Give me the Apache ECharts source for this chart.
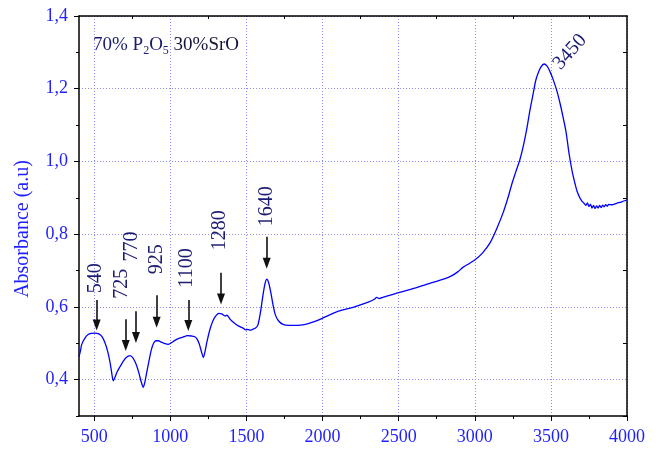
<!DOCTYPE html>
<html>
<head>
<meta charset="utf-8">
<script src="https://cdn.jsdelivr.net/npm/echarts@6/dist/echarts.min.js"></script>
<style>
  html, body { margin: 0; padding: 0; background: #fff; }
  #chart { width: 661px; height: 451px; }
</style>
</head>
<body>
<div id="chart"></div>
<script>
// FTIR absorbance spectrum, 70% P2O5 – 30% SrO glass
const wavenumber = [
  400, 410, 418, 440, 460, 480, 505, 530, 550, 570, 590, 605, 618, 625, 635, 650, 670, 690, 710, 735,
  750, 765, 780, 795, 810, 822, 832, 845, 860, 875, 890, 905, 920, 940, 960, 985, 1005, 1030, 1060, 1090,
  1110, 1140, 1160, 1175, 1190, 1205, 1217, 1228, 1240, 1260, 1280, 1300, 1320, 1340, 1360, 1372, 1380, 1395, 1420, 1450,
  1480, 1495, 1510, 1525, 1540, 1560, 1575, 1590, 1605, 1620, 1633, 1645, 1660, 1675, 1690, 1710, 1740, 1780, 1830, 1880,
  1950, 2000, 2050, 2100, 2200, 2300, 2340, 2356, 2372, 2400, 2500, 2600, 2700, 2800, 2850, 2890, 2920, 2950, 3000, 3050,
  3100, 3144, 3187, 3220, 3245, 3270, 3297, 3320, 3341, 3362, 3384, 3400, 3417, 3435, 3455, 3475, 3494, 3515, 3538, 3560,
  3581, 3600, 3620, 3640, 3658, 3672, 3690, 3705, 3720, 3730, 3740, 3750, 3760, 3770, 3780, 3790, 3800, 3810, 3820, 3830,
  3840, 3850, 3860, 3870, 3880, 3900, 3932, 3965, 4000
];
const absorbance = [
  0.463, 0.480, 0.497, 0.515, 0.524, 0.527, 0.528, 0.526, 0.519, 0.502, 0.475, 0.445, 0.410, 0.397, 0.405, 0.421, 0.436, 0.450, 0.461, 0.466,
  0.462, 0.452, 0.437, 0.416, 0.392, 0.379, 0.392, 0.420, 0.452, 0.482, 0.500, 0.507, 0.507, 0.503, 0.500, 0.497, 0.501, 0.508, 0.514, 0.518,
  0.521, 0.520, 0.518, 0.512, 0.498, 0.476, 0.461, 0.478, 0.503, 0.538, 0.562, 0.576, 0.582, 0.580, 0.575, 0.577, 0.574, 0.565, 0.556, 0.547,
  0.541, 0.537, 0.538, 0.536, 0.538, 0.542, 0.550, 0.580, 0.622, 0.660, 0.676, 0.668, 0.640, 0.605, 0.578, 0.562, 0.552, 0.549, 0.549, 0.551,
  0.560, 0.569, 0.579, 0.588, 0.599, 0.613, 0.621, 0.626, 0.623, 0.627, 0.639, 0.651, 0.664, 0.677, 0.686, 0.697, 0.708, 0.716, 0.729, 0.748,
  0.776, 0.815, 0.860, 0.903, 0.940, 0.972, 1.006, 1.045, 1.088, 1.140, 1.187, 1.222, 1.244, 1.260, 1.268, 1.262, 1.247, 1.225, 1.196, 1.160,
  1.120, 1.080, 1.020, 0.972, 0.940, 0.918, 0.900, 0.890, 0.884, 0.879, 0.886, 0.876, 0.882, 0.872, 0.879, 0.871, 0.878, 0.872, 0.879, 0.873,
  0.880, 0.875, 0.881, 0.877, 0.882, 0.881, 0.885, 0.889, 0.894
];

// axis ticks and labels
const xMajor = [500, 1000, 1500, 2000, 2500, 3000, 3500, 4000];
const xMinor = [750, 1250, 1750, 2250, 2750, 3250, 3750];
const yMajor = [0.4, 0.6, 0.8, 1.0, 1.2, 1.4];
const yMinor = [0.3, 0.5, 0.7, 0.9, 1.1, 1.3];

// band assignments: label text and where it sits (data coordinates)
const bandNames = ['540', '725', '770', '925', '1100', '1280', '1640', '3450'];
const bandLabelX = [510, 681, 746, 910, 1107, 1326, 1633, 3625];
const bandLabelY = [0.679, 0.664, 0.766, 0.731, 0.707, 0.811, 0.877, 1.301];

// pointer arrows (wavenumber, tail absorbance, tip absorbance)
const arrowX = [516, 707, 774, 910, 1118, 1333, 1633];
const arrowTail = [0.619, 0.566, 0.588, 0.632, 0.619, 0.694, 0.793];
const arrowTip = [0.550, 0.494, 0.516, 0.558, 0.549, 0.622, 0.720];

const SERIF = "'Liberation Serif', 'DejaVu Serif', serif";
const BLUE = '#1f1fff';
const NAVY = '#1c1c72';

const chart = echarts.init(document.getElementById('chart'), null, { renderer: 'canvas' });

const gridLine = { show: true, lineStyle: { color: '#8c8cf5', width: 1, type: [1, 2] } };
const frame = { show: true, onZero: false, lineStyle: { color: '#000', width: 1.5 } };

const bandLabels = bandNames.map((name, i) => ({
  name: name,
  coord: [bandLabelX[i], bandLabelY[i]],
  label: { rotate: name === '3450' ? 48 : 90 }
}));

const arrows = arrowX.map((x, i) => [
  { coord: [x, arrowTail[i]] },
  { coord: [x, arrowTip[i]] }
]);

chart.setOption({
  animation: false,
  backgroundColor: '#fff',
  grid: { left: 79, right: 34, top: 16, bottom: 35, containLabel: false, outerBoundsMode: 'none' },
  xAxis: [
    {
      type: 'value', min: 400, max: 4000, position: 'bottom',
      axisLine: frame,
      axisTick: { show: true, inside: false, length: 5, customValues: xMajor, lineStyle: { color: '#000', width: 1 } },
      axisLabel: {
        show: true, customValues: xMajor, color: BLUE, fontSize: 18, fontFamily: SERIF, margin: 12,
        formatter: v => String(v)
      },
      splitLine: gridLine
    },
    {
      type: 'value', min: 400, max: 4000, position: 'bottom',
      axisLine: { show: false },
      axisTick: { show: true, inside: false, length: 3, customValues: xMinor, lineStyle: { color: '#000', width: 1 } },
      axisLabel: { show: false },
      splitLine: { show: false }
    },
    {
      type: 'value', min: 400, max: 4000, position: 'top',
      axisLine: frame,
      axisTick: { show: true, inside: true, length: 3, customValues: xMinor, lineStyle: { color: '#000', width: 1 } },
      axisLabel: { show: false },
      splitLine: { show: false }
    }
  ],
  yAxis: [
    {
      type: 'value', min: 0.3, max: 1.4, position: 'left',
      axisLine: frame,
      axisTick: { show: true, inside: false, length: 5, customValues: yMajor, lineStyle: { color: '#000', width: 1 } },
      axisLabel: {
        show: true, customValues: yMajor, color: BLUE, fontSize: 18, fontFamily: SERIF, margin: 11,
        formatter: v => v.toFixed(1).replace('.', ',')
      },
      splitLine: gridLine
    },
    {
      type: 'value', min: 0.3, max: 1.4, position: 'left',
      axisLine: { show: false },
      axisTick: { show: true, inside: false, length: 3, customValues: yMinor, lineStyle: { color: '#000', width: 1 } },
      axisLabel: { show: false },
      splitLine: { show: false }
    },
    {
      type: 'value', min: 0.3, max: 1.4, position: 'right',
      axisLine: frame,
      axisTick: { show: true, inside: true, length: 4, customValues: yMinor, lineStyle: { color: '#000', width: 1 } },
      axisLabel: { show: false },
      splitLine: { show: false }
    }
  ],
  graphic: [
    {
      type: 'text', x: 23, y: 229, rotation: Math.PI / 2,
      style: {
        text: 'Absorbance (a.u)', fill: BLUE, font: '20px ' + SERIF,
        align: 'center', verticalAlign: 'middle'
      }
    },
    {
      type: 'text', x: 93, y: 33,
      style: {
        text: '{a|70% P}{s|2}{a|O}{s|5}{b| 30%SrO}',
        rich: {
          a: { fill: NAVY, fontSize: 19, fontFamily: SERIF, lineHeight: 24, verticalAlign: 'middle' },
          s: { fill: NAVY, fontSize: 12, fontFamily: SERIF, lineHeight: 12, verticalAlign: 'bottom' },
          b: { fill: '#15153a', fontSize: 19, fontFamily: SERIF, lineHeight: 24, verticalAlign: 'middle' }
        }
      }
    }
  ],
  series: [
    {
      type: 'line',
      xAxisIndex: 0, yAxisIndex: 0,
      data: wavenumber.map((w, i) => [w, absorbance[i]]),
      showSymbol: false,
      smooth: 0.3,
      lineStyle: { color: '#0000ff', width: 1.3 },
      z: 3,
      markPoint: {
        silent: true,
        symbol: 'circle', symbolSize: 0,
        label: {
          show: true, position: 'inside', formatter: '{b}',
          color: NAVY, fontSize: 20, fontFamily: SERIF
        },
        data: bandLabels
      },
      markLine: {
        silent: true,
        symbol: ['none', 'triangle'],
        symbolSize: [8, 11],
        label: { show: false },
        lineStyle: { color: '#111', width: 1.6, type: 'solid' },
        emphasis: { disabled: true },
        data: arrows
      }
    }
  ]
});
</script>
</body>
</html>
